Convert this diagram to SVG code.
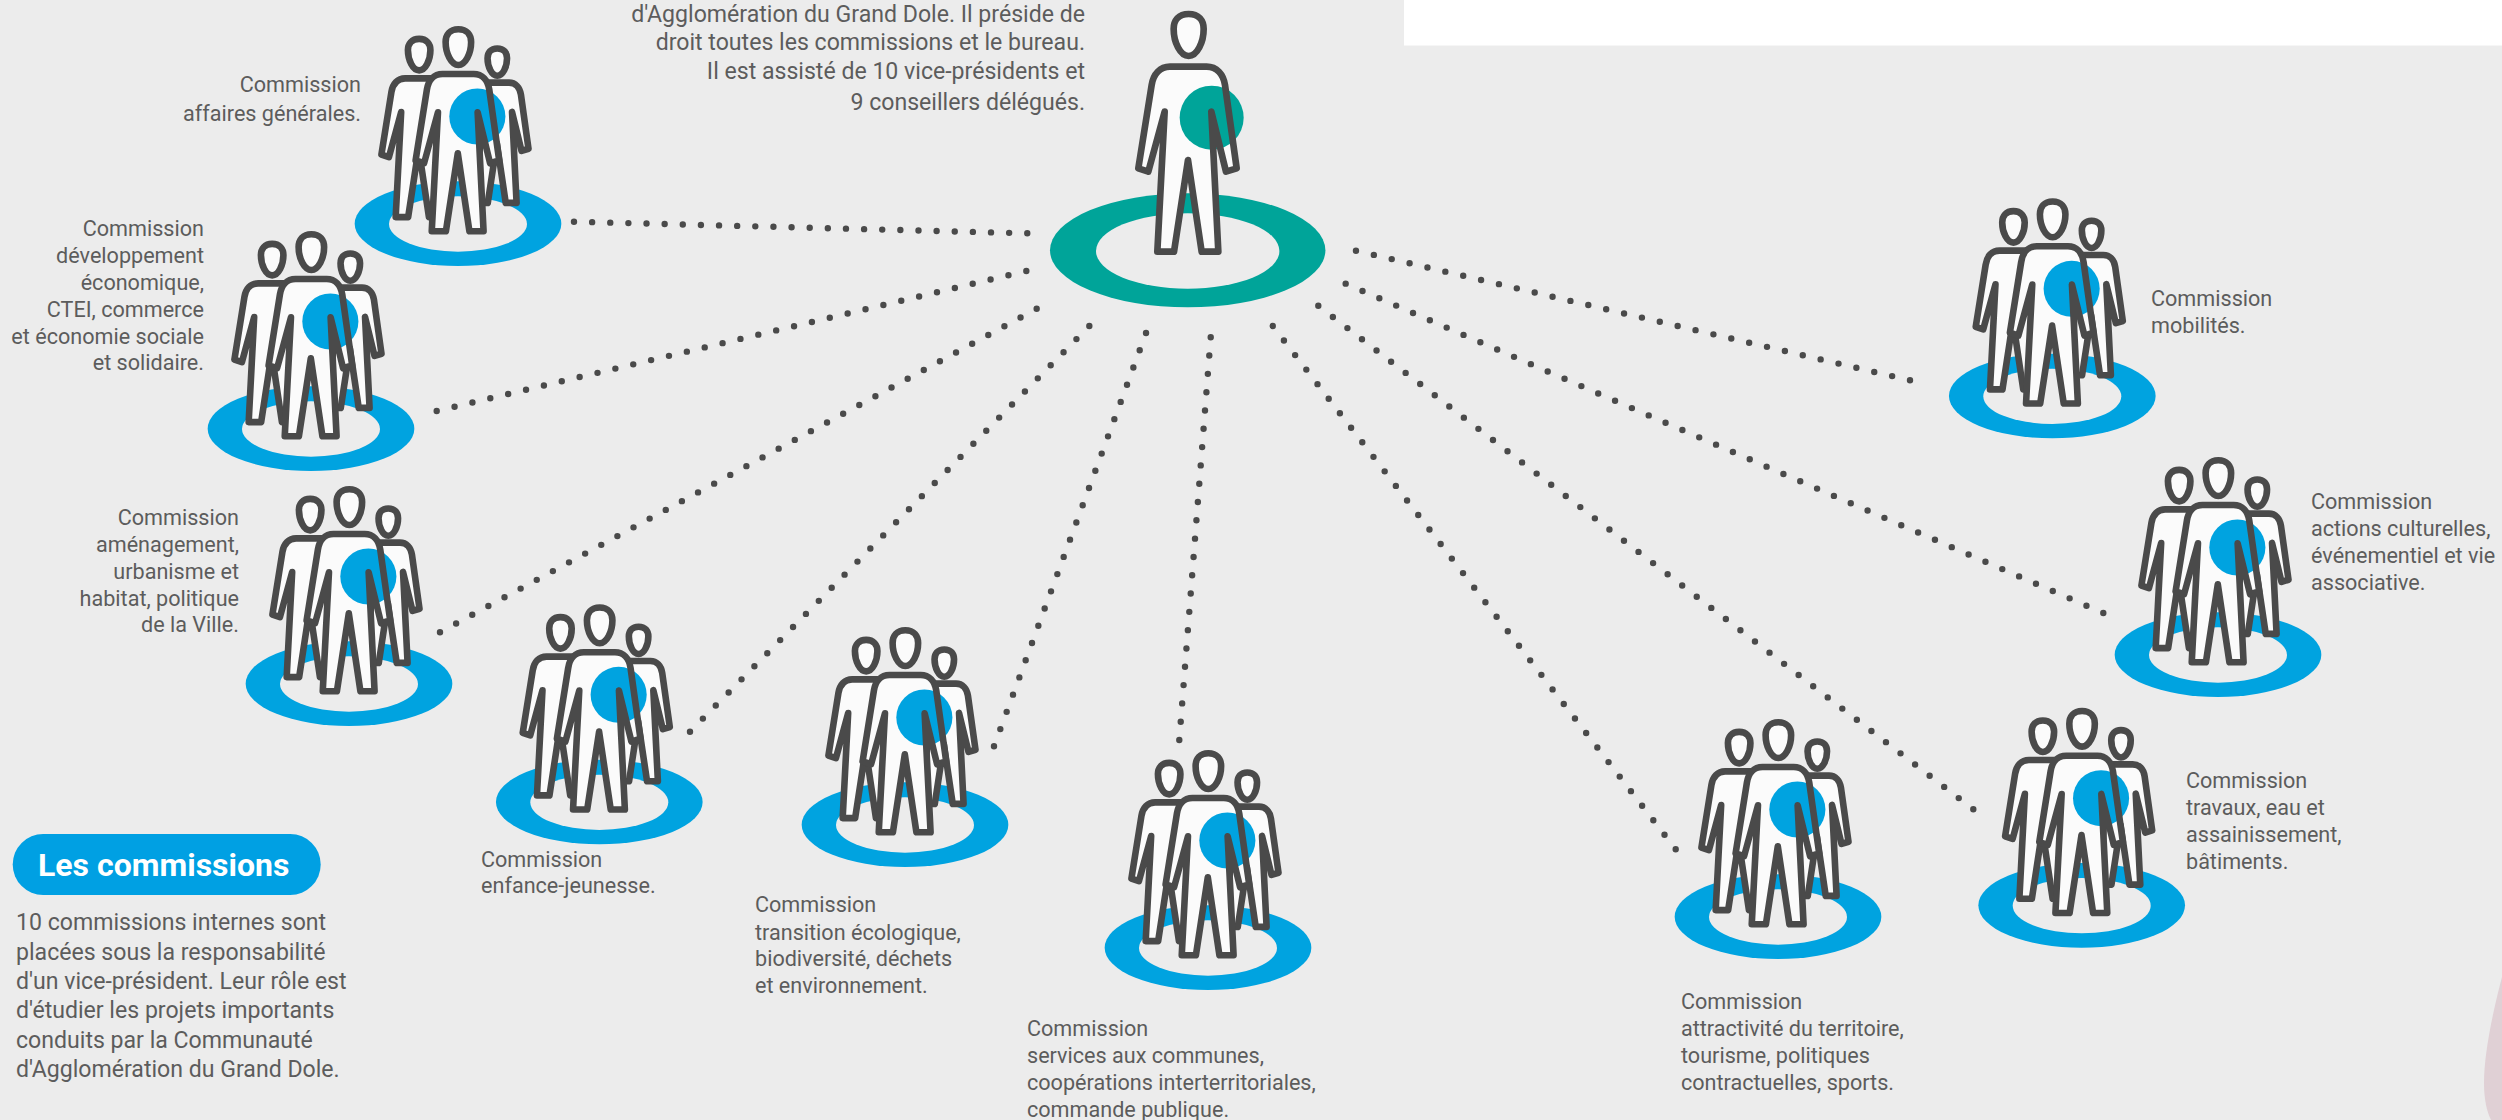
<svg xmlns="http://www.w3.org/2000/svg" width="2502" height="1120" viewBox="0 0 2502 1120">
<style>
text{font-family:Roboto,"Liberation Sans",sans-serif;font-size:21.6px;fill:#5c5c5c}
.b{font-size:23.1px}
.r{text-anchor:end}
.t{font-size:32px;font-weight:700;fill:#fff}
.f{fill:#fbfbfb}
.s{fill:none;stroke:#4a4a4a;stroke-linejoin:round;stroke-linecap:round}
.d{fill:none;stroke:#4a4a4a;stroke-width:6.4;stroke-linecap:round;stroke-dasharray:0 1}
</style>
<defs>
<path id="hd" d="M506 42C476 42 461 62 461 87C461 127 481 168 506 168C531 168 551 127 551 87C551 62 536 42 506 42Z"/>
<path id="bd" d="M395 255C400 222 420 200 450 200L560 200C590 200 610 222 615 255L650 505L618 515L574 335L595 755L545 755L504 480L462 755L412 755L434 335L385 515L355 505Z"/>
<g id="pf"><use href="#hd" class="f"/><use href="#bd" class="f"/></g>
<g id="ps"><use href="#hd" class="s"/><use href="#bd" class="s"/></g>
<g id="trio">
<g transform="scale(.33333) translate(-355 -672)">
<ellipse cx="355" cy="671" rx="310" ry="127" fill="#00a3e0"/>
<ellipse cx="355" cy="672" rx="207" ry="83" fill="#ececec"/>
<g transform="translate(-141 85) scale(.75)" stroke-width="26.4"><use href="#pf"/><use href="#ps"/></g>
<g transform="translate(144 118) scale(.65)" stroke-width="30.5"><use href="#pf"/><use href="#ps"/></g>
<g transform="translate(-74 52) scale(.85)" stroke-width="23.3"><use href="#pf"/><circle cx="573" cy="350" r="99" fill="#00a3e0"/><use href="#ps"/></g>
</g>
</g>
</defs>
<rect width="2502" height="1120" fill="#ececec"/>
<rect x="1404" width="1098" height="45.5" fill="#fff"/>
<path d="M2502 977C2492 1015 2484 1055 2484 1083C2484 1100 2487 1112 2491 1120L2502 1120Z" fill="#e0d0d5"/>
<g id="connectors">
<path class="d" pathLength="25.2" d="M574 221.7L1030.9 233.4"/>
<path class="d" pathLength="33.2" d="M436.7 411L1029.9 270.2"/>
<path class="d" pathLength="37.2" d="M440 632.3L1039.9 307"/>
<path class="d" pathLength="31.2" d="M690 731.7L1091.9 323.4"/>
<path class="d" pathLength="24.2" d="M994 746.3L1147.3 329.6"/>
<path class="d" pathLength="22.2" d="M1179.3 740L1211 333.6"/>
<path class="d" pathLength="36.2" d="M1675.7 849.3L1270.5 323.1"/>
<path class="d" pathLength="45.2" d="M1973.3 809.3L1315.4 303.5"/>
<path class="d" pathLength="45.2" d="M2103.3 613L1342.3 282.2"/>
<path class="d" pathLength="31.2" d="M1910 380.3L1352.4 249.9"/>
</g>
<g id="president">
<ellipse cx="1187.7" cy="250.3" rx="137.7" ry="57" fill="#00a499"/>
<ellipse cx="1187.7" cy="251" rx="91.7" ry="37.7" fill="#ececec"/>
<g transform="translate(1020 0) scale(.33333)" stroke-width="20"><use href="#pf"/><circle cx="575" cy="353" r="96" fill="#00a499"/><use href="#ps"/></g>
<text class="b r" x="1085" y="22">d'Agglomération du Grand Dole. Il préside de</text>
<text class="b r" x="1085" y="50">droit toutes les commissions et le bureau.</text>
<text class="b r" x="1085" y="79">Il est assisté de 10 vice-présidents et</text>
<text class="b r" x="1085" y="110">9 conseillers délégués.</text>
</g>
<g id="n1"><use href="#trio" x="458" y="224"/>
<text class="r" x="361" y="92">Commission</text><text class="r" x="361" y="121">affaires générales.</text></g>
<g id="n2"><use href="#trio" x="311" y="429"/>
<text class="r" x="204" y="236">Commission</text><text class="r" x="204" y="263">développement</text><text class="r" x="204" y="290">économique,</text><text class="r" x="204" y="317">CTEI, commerce</text><text class="r" x="204" y="344">et économie sociale</text><text class="r" x="204" y="370">et solidaire.</text></g>
<g id="n3"><use href="#trio" x="349" y="684"/>
<text class="r" x="239" y="525">Commission</text><text class="r" x="239" y="552">aménagement,</text><text class="r" x="239" y="579">urbanisme et</text><text class="r" x="239" y="606">habitat, politique</text><text class="r" x="239" y="632">de la Ville.</text></g>
<g id="n4"><use href="#trio" x="599.3" y="802.3"/>
<text x="481" y="867">Commission</text><text x="481" y="893">enfance-jeunesse.</text></g>
<g id="n5"><use href="#trio" x="905" y="825"/>
<text x="755" y="912">Commission</text><text x="755" y="940">transition écologique,</text><text x="755" y="966">biodiversité, déchets</text><text x="755" y="993">et environnement.</text></g>
<g id="n6"><use href="#trio" x="1208" y="948"/>
<text x="1027" y="1036">Commission</text><text x="1027" y="1063">services aux communes,</text><text x="1027" y="1090">coopérations interterritoriales,</text><text x="1027" y="1117">commande publique.</text></g>
<g id="n7"><use href="#trio" x="1778" y="917"/>
<text x="1681" y="1009">Commission</text><text x="1681" y="1036">attractivité du territoire,</text><text x="1681" y="1063">tourisme, politiques</text><text x="1681" y="1090">contractuelles, sports.</text></g>
<g id="n8"><use href="#trio" x="2081.7" y="905.7"/>
<text x="2186" y="788">Commission</text><text x="2186" y="815">travaux, eau et</text><text x="2186" y="842">assainissement,</text><text x="2186" y="869">bâtiments.</text></g>
<g id="n9"><use href="#trio" x="2218" y="655"/>
<text x="2311" y="509">Commission</text><text x="2311" y="536">actions culturelles,</text><text x="2311" y="563">événementiel et vie</text><text x="2311" y="590">associative.</text></g>
<g id="n10"><use href="#trio" x="2052.3" y="396.3"/>
<text x="2151" y="306">Commission</text><text x="2151" y="333">mobilités.</text></g>
<g id="intro">
<rect x="12.7" y="834" width="308" height="61" rx="30.5" fill="#00a0e3"/>
<text class="t" x="38" y="876">Les commissions</text>
<text class="b" x="16" y="930">10 commissions internes sont</text>
<text class="b" x="16" y="960">placées sous la responsabilité</text>
<text class="b" x="16" y="989">d'un vice-président. Leur rôle est</text>
<text class="b" x="16" y="1018">d'étudier les projets importants</text>
<text class="b" x="16" y="1048">conduits par la Communauté</text>
<text class="b" x="16" y="1077">d'Agglomération du Grand Dole.</text>
</g>
</svg>
